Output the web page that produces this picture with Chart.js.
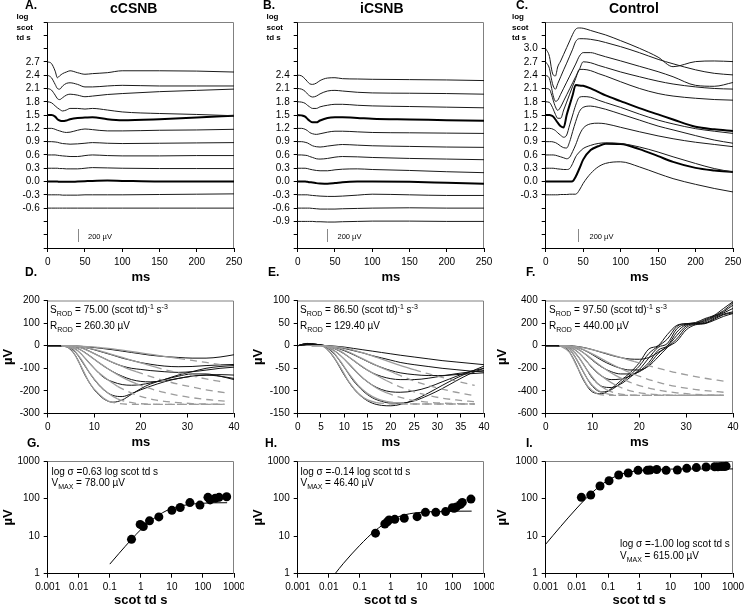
<!DOCTYPE html>
<html>
<head>
<meta charset="utf-8">
<title>ERG luminance series</title>
<script src="https://cdn.jsdelivr.net/npm/chart.js@4.4.1/dist/chart.umd.min.js"></script>
<style>
  body { margin: 0; background: #fff; }
  #fig { position: relative; width: 744px; height: 608px; overflow: hidden;
         font-family: "Liberation Sans", Arial, sans-serif; color: #000; }
  #fig canvas { position: absolute; }
  .lbl { position: absolute; white-space: nowrap; }
  .let { font-weight: bold; font-size: 12px; line-height: 12px; }
  .ttl { font-weight: bold; font-size: 14px; line-height: 14px; }
  .logl { font-weight: bold; font-size: 8px; line-height: 10.5px; }
  .bar { position: absolute; width: 1px; height: 12.5px; background: #888; }
  .barl { font-size: 7.5px; line-height: 8px; }
  .ann { font-size: 10px; }
  .ann sub, .ann sup { font-size: 7px; line-height: 0; }
</style>
</head>
<body>
<div id="fig">
  <canvas id="cA"></canvas><canvas id="cB"></canvas><canvas id="cC"></canvas>
  <canvas id="cD"></canvas><canvas id="cE"></canvas><canvas id="cF"></canvas>
  <canvas id="cG"></canvas><canvas id="cH"></canvas><canvas id="cI"></canvas>

  <div class="lbl let" style="left:25px;top:-1.5px">A.</div>
  <div class="lbl let" style="left:263px;top:-1.5px">B.</div>
  <div class="lbl let" style="left:516px;top:-1.5px">C.</div>
  <div class="lbl ttl" style="left:110px;top:1.3px">cCSNB</div>
  <div class="lbl ttl" style="left:360px;top:1.3px">iCSNB</div>
  <div class="lbl ttl" style="left:609px;top:1.3px">Control</div>
  <div class="lbl logl" style="left:16.5px;top:12.2px">log<br>scot<br>td s</div>
  <div class="lbl logl" style="left:266.5px;top:12.2px">log<br>scot<br>td s</div>
  <div class="lbl logl" style="left:512px;top:12.2px">log<br>scot<br>td s</div>

  <div class="bar" style="left:77.5px;top:229px"></div>
  <div class="lbl barl" style="left:88px;top:232.5px">200 &micro;V</div>
  <div class="bar" style="left:326.5px;top:229px"></div>
  <div class="lbl barl" style="left:337.5px;top:232.5px">200 &micro;V</div>
  <div class="bar" style="left:578px;top:229px"></div>
  <div class="lbl barl" style="left:589.5px;top:232.5px">200 &micro;V</div>

  <div class="lbl let" style="left:25px;top:266px">D.</div>
  <div class="lbl let" style="left:268px;top:266px">E.</div>
  <div class="lbl let" style="left:526px;top:266px">F.</div>
  <div class="lbl ann" style="left:50px;top:302px;line-height:16px">S<sub>ROD</sub> = 75.00 (scot td)<sup>-1</sup> s<sup>-3</sup><br>R<sub>ROD</sub> = 260.30 &micro;V</div>
  <div class="lbl ann" style="left:300px;top:302px;line-height:16px">S<sub>ROD</sub> = 86.50 (scot td)<sup>-1</sup> s<sup>-3</sup><br>R<sub>ROD</sub> = 129.40 &micro;V</div>
  <div class="lbl ann" style="left:549px;top:302px;line-height:16px">S<sub>ROD</sub> = 97.50 (scot td)<sup>-1</sup> s<sup>-3</sup><br>R<sub>ROD</sub> = 440.00 &micro;V</div>

  <div class="lbl let" style="left:27px;top:437px">G.</div>
  <div class="lbl let" style="left:265px;top:437px">H.</div>
  <div class="lbl let" style="left:526px;top:437px">I.</div>
  <div class="lbl ann" style="left:51.5px;top:465.5px;line-height:11px">log &sigma; =0.63 log scot td s<br>V<sub>MAX</sub> = 78.00 &micro;V</div>
  <div class="lbl ann" style="left:300.5px;top:465.5px;line-height:11px">log &sigma; =-0.14 log scot td s<br>V<sub>MAX</sub> = 46.40 &micro;V</div>
  <div class="lbl ann" style="left:620px;top:538px;line-height:12px">log &sigma; =-1.00 log scot td s<br>V<sub>MAX</sub> = 615.00 &micro;V</div>
</div>

<script>
// ---- panels A-C: ERG traces offset by flash strength (log scot td s) ----
const UV_UNIT = 0.001433;          // log units per microvolt (200 uV scale bar)
const BOLD = [1.5, 0.0];

const T_AB = [0, 5, 10, 13, 16, 20, 25, 30, 40, 50, 60, 80, 100, 150, 200, 250];

const A_LEVELS = [2.7, 2.4, 2.1, 1.8, 1.5, 1.2, 0.9, 0.6, 0.3, 0.0, -0.3, -0.6];
const A_UV = [
  [0, -25, -145, -250, -220, -185, -160, -140, -170, -195, -185, -170, -140, -140, -145, -160],
  [0, -40, -145, -210, -220, -170, -130, -120, -145, -185, -185, -170, -160, -170, -170, -170],
  [0, -25, -105, -160, -175, -145, -105, -90, -105, -130, -120, -95, -80, -50, -30, -10],
  [0, -15, -65, -95, -120, -145, -130, -105, -105, -115, -105, -130, -160, -185, -200, -220],
  [0, 0, -25, -65, -85, -95, -85, -65, -45, -40, -35, -65, -80, -65, -40, -10],
  [0, 0, -15, -30, -40, -55, -65, -60, -30, -10, -20, -40, -40, -30, -25, -15],
  [0, 0, -5, -10, -20, -30, -35, -40, -35, -25, -15, -25, -30, -25, -20, -15],
  [0, 0, 0, -5, -10, -15, -20, -25, -25, -10, 0, -10, -15, -15, -10, -10],
  [0, 0, 0, 0, -5, -5, -10, -10, -10, 0, 10, 5, 0, -5, -5, -5],
  [0, 0, 0, 0, -5, -5, -5, -5, 0, 5, 10, 15, 10, 0, 0, 0],
  [0, 0, 0, 0, 0, -5, -5, -5, -5, 0, 0, 0, 0, 5, 10, 15],
  [0, 0, 0, 0, 0, 0, 0, 0, 0, 0, 0, 0, 0, 0, 0, 0]
];

const B_LEVELS = [2.4, 2.1, 1.8, 1.5, 1.2, 0.9, 0.6, 0.3, 0.0, -0.3, -0.6, -0.9];
const B_UV = [
  [0, -10, -60, -100, -135, -145, -125, -85, -45, -40, -55, -60, -65, -70, -75, -85],
  [0, -10, -45, -85, -115, -135, -120, -85, -40, -30, -40, -60, -70, -75, -80, -90],
  [0, -5, -25, -55, -80, -105, -105, -80, -55, -40, -40, -55, -65, -75, -85, -95],
  [0, -5, -25, -60, -90, -115, -115, -85, -45, -35, -35, -45, -60, -70, -80, -90],
  [0, 0, -15, -35, -65, -85, -95, -85, -60, -45, -45, -55, -65, -70, -75, -80],
  [0, 0, -10, -20, -40, -65, -80, -85, -70, -55, -45, -55, -65, -75, -85, -90],
  [0, 0, -5, -10, -25, -40, -60, -65, -55, -35, -25, -30, -40, -55, -65, -75],
  [0, 0, 0, -5, -15, -25, -35, -40, -40, -25, -15, -10, -20, -35, -55, -70],
  [0, 0, 0, -5, -10, -15, -25, -30, -35, -25, -10, 0, 0, -5, -20, -35],
  [0, 0, 0, 0, -5, -10, -15, -20, -25, -25, -20, -5, 10, 0, -10, -10],
  [0, 0, 0, 0, 0, -5, -10, -15, -15, -15, -10, -5, 0, 5, 0, 0],
  [0, 0, 0, 0, 0, 0, -5, -5, -10, -10, -5, 0, 5, 5, 0, 0]
];

const T_C = [0, 5, 8, 10, 13, 16, 20, 24, 28, 32, 36, 40, 45, 50, 60, 70, 80, 100, 125, 150, 170, 200, 225, 250];
const C_LEVELS = [3.0, 2.7, 2.4, 2.1, 1.8, 1.5, 1.2, 0.9, 0.6, 0.3, 0.0, -0.3];
const C_UV = [
  [0, -125, -335, -415, -430, -290, -195, -90, 15, 120, 225, 305, 325, 320, 285, 250, 215, 125, 5, -135, -285, -205, -195, -205],
  [0, -105, -290, -380, -430, -345, -235, -125, -20, 90, 200, 320, 365, 365, 355, 335, 305, 240, 145, 40, -30, -125, -180, -205],
  [0, -55, -210, -325, -410, -395, -300, -205, -110, -15, 80, 175, 300, 355, 355, 325, 290, 225, 140, 55, -25, -160, -175, -115],
  [0, -15, -105, -185, -290, -345, -290, -195, -100, -5, 90, 185, 300, 420, 405, 365, 330, 260, 185, 115, 70, 25, 0, -10],
  [0, -10, -65, -115, -200, -260, -260, -130, -5, 120, 245, 365, 510, 510, 490, 445, 405, 315, 210, 130, 90, 55, 35, 25],
  [0, 0, -10, -25, -70, -120, -175, -195, 0, 160, 315, 475, 465, 460, 420, 365, 310, 220, 110, 10, -70, -185, -225, -250],
  [0, 0, -5, -15, -35, -70, -110, -140, -105, 55, 210, 365, 490, 500, 490, 445, 405, 330, 225, 130, 70, -5, -45, -80],
  [0, 0, 0, -5, -15, -35, -70, -95, -100, 0, 160, 315, 475, 540, 560, 540, 510, 435, 340, 245, 185, 95, 25, -25],
  [0, 0, 0, 0, -5, -15, -30, -45, -60, -35, 55, 160, 315, 420, 490, 500, 490, 435, 365, 300, 255, 200, 165, 130],
  [0, 0, 0, 0, -5, -10, -15, -20, -20, -5, 75, 180, 255, 310, 360, 390, 400, 390, 335, 255, 180, 75, -5, -60],
  [0, 0, 0, 0, 0, 0, 0, 0, 0, 0, 5, 75, 205, 345, 495, 555, 595, 590, 510, 400, 310, 215, 175, 150],
  [0, 0, 0, 0, 0, 0, 5, 5, 5, 10, 10, 10, 75, 180, 335, 440, 495, 520, 440, 335, 255, 165, 100, 45]
];

// ---- panels D-F: leading edge of the a-wave with rod model fits ----
const T_D = [0, 2, 4, 6, 8, 10, 12, 14, 16, 18, 20, 22, 25, 28, 31, 34, 37, 40];
const D_UV = [
  [0, 0, -5, -45, -130, -195, -235, -250, -240, -215, -190, -170, -150, -130, -115, -100, -92, -88],
  [0, 0, -3, -30, -90, -150, -195, -220, -225, -212, -195, -180, -160, -145, -135, -130, -128, -130],
  [0, 0, -2, -15, -55, -100, -140, -160, -172, -175, -172, -165, -150, -135, -125, -125, -135, -150],
  [0, 0, 0, -8, -30, -60, -90, -115, -135, -150, -158, -160, -155, -145, -135, -130, -135, -145],
  [0, 0, 0, -4, -15, -35, -55, -75, -90, -100, -105, -110, -115, -118, -115, -108, -100, -95],
  [0, 0, 0, -2, -8, -18, -30, -42, -55, -65, -75, -82, -90, -93, -92, -88, -85, -83],
  [0, 0, 0, -1, -4, -8, -13, -18, -24, -30, -36, -42, -48, -52, -55, -55, -50, -40]
];
const E_UV = [
  [0, 5, 3, -5, -30, -65, -95, -115, -127, -132, -133, -130, -120, -105, -88, -72, -58, -45],
  [0, 5, 3, -3, -20, -48, -78, -100, -115, -123, -127, -127, -122, -110, -95, -78, -62, -50],
  [0, 4, 3, -2, -12, -30, -52, -72, -87, -97, -102, -103, -100, -92, -80, -68, -57, -50],
  [0, 3, 3, 0, -7, -18, -33, -48, -60, -68, -73, -75, -75, -72, -67, -62, -58, -55],
  [0, 3, 2, 0, -4, -11, -20, -30, -40, -48, -55, -60, -64, -66, -66, -64, -62, -60],
  [0, 2, 2, 0, -2, -6, -11, -16, -22, -27, -32, -37, -42, -46, -50, -53, -56, -58],
  [0, 2, 2, 0, -1, -3, -6, -9, -12, -15, -18, -21, -25, -29, -33, -36, -39, -42]
];
const T_F = [0, 2, 4, 6, 8, 10, 12, 14, 16, 18, 20, 22, 24, 26, 28, 30, 32, 34, 36, 38, 40];
const F_UV = [
  [0, 0, -10, -120, -300, -410, -425, -380, -310, -240, -150, -30, 0, 100, 180, 195, 205, 240, 270, 330, 390],
  [0, 0, -5, -80, -230, -360, -410, -390, -330, -260, -180, -70, -5, 60, 170, 195, 200, 230, 265, 310, 380],
  [0, 0, -3, -50, -160, -290, -360, -370, -340, -280, -210, -110, -15, 20, 150, 190, 198, 220, 260, 300, 360],
  [0, 0, -2, -30, -100, -200, -270, -300, -295, -270, -225, -150, -40, 0, 120, 185, 195, 210, 255, 290, 330],
  [0, 0, -1, -15, -60, -130, -190, -230, -250, -250, -230, -170, -70, -5, 90, 175, 195, 200, 245, 280, 300],
  [0, 0, 0, -8, -35, -80, -130, -170, -200, -215, -215, -180, -100, -15, 60, 160, 190, 198, 235, 275, 290],
  [0, 0, 0, -3, -15, -35, -60, -85, -105, -118, -120, -105, -60, -10, 40, 140, 185, 195, 225, 260, 285]
];

const FIT_T = [3, 5, 7, 9, 11, 13, 15, 17, 19, 21, 23, 25, 28, 31, 34, 38];
const D_FIT = [
  [0, -15, -85, -165, -215, -245, -255, -259, -260, -260, -260, -260, -260, -260, -260, -260],
  [0, -8, -55, -120, -172, -210, -235, -248, -255, -258, -259, -260, -260, -260, -260, -260],
  [0, -5, -32, -78, -120, -152, -180, -200, -218, -230, -240, -246, -252, -256, -258, -259],
  [0, -3, -18, -45, -75, -103, -128, -150, -168, -183, -196, -207, -220, -230, -238, -245],
  [0, -1, -8, -25, -45, -65, -83, -100, -115, -129, -142, -154, -170, -183, -195, -208],
  [0, 0, -4, -12, -22, -34, -46, -58, -70, -82, -94, -105, -120, -134, -147, -162],
  [0, 0, -2, -4, -8, -12, -17, -23, -29, -35, -41, -47, -56, -65, -74, -86]
];
const D_CUT = [13, 15, 15, 18, 19, 22, 26];
const E_FIT = [
  [0, 0, -15, -45, -80, -105, -120, -126, -128, -129, -129, -129, -129, -129, -129, -129],
  [0, 0, -8, -32, -62, -88, -106, -117, -123, -126, -128, -129, -129, -129, -129, -129],
  [0, 0, -5, -20, -40, -62, -80, -94, -104, -111, -117, -121, -125, -127, -128, -129],
  [0, 0, -3, -11, -25, -40, -54, -66, -77, -87, -95, -102, -110, -116, -120, -124],
  [0, 0, -2, -6, -14, -24, -34, -44, -53, -62, -70, -78, -88, -96, -103, -111],
  [0, 0, -1, -3, -7, -13, -19, -26, -33, -40, -47, -53, -62, -70, -78, -88]
];
const E_CUT = [17, 19, 19, 19, 21, 24];
const F_FIT = [
  [0, -55, -210, -360, -425, -438, -440, -440, -440, -440, -440, -440, -440, -440, -440, -440],
  [0, -30, -150, -300, -390, -425, -437, -440, -440, -440, -440, -440, -440, -440, -440, -440],
  [0, -20, -100, -225, -330, -390, -420, -433, -438, -440, -440, -440, -440, -440, -440, -440],
  [0, -10, -60, -150, -235, -300, -350, -385, -408, -422, -430, -435, -439, -440, -440, -440],
  [0, -5, -35, -90, -155, -215, -265, -305, -340, -365, -385, -400, -417, -428, -434, -438],
  [0, -3, -20, -52, -95, -140, -182, -220, -255, -285, -312, -335, -362, -382, -397, -412],
  [0, -2, -10, -25, -45, -68, -92, -117, -142, -166, -189, -210, -240, -265, -288, -313]
];
const F_CUT = [11, 12, 13, 14, 16, 18, 18];

// ---- panels G-I: b-wave amplitude vs. flash strength ----
const G_X = [0.5, 0.95, 1.2, 1.9, 3.8, 10, 18.5, 38, 80, 145, 170, 250, 330, 580];
const G_Y = [8.2, 20.5, 18, 25.5, 32.5, 48.5, 58, 78, 67, 108, 92, 102, 108, 112];
const G_FIT_X = [0.1, 0.2, 0.5, 1, 2, 5, 10, 20, 50, 100, 200, 600];
const G_FIT_Y = [1.8, 3.5, 8.2, 15, 25, 42, 55, 64, 72, 75, 77, 77.5];

const H_X = [0.32, 0.64, 0.77, 0.88, 1.34, 2.7, 7, 13, 28, 58, 96, 110, 130, 175, 200, 380];
const H_Y = [12, 21, 24, 27, 28, 30, 33, 43, 43, 45, 57, 55, 60, 70, 79, 97];
const H_FIT_X = [0.016, 0.03, 0.1, 0.3, 1, 3, 10, 30, 100, 400];
const H_FIT_Y = [1.0, 1.9, 5.7, 13.6, 27, 37.4, 43.3, 45.3, 46.1, 46.3];

const I_X = [0.0139, 0.0277, 0.055, 0.107, 0.218, 0.44, 0.91, 1.8, 2.2, 3.6, 7.2, 16.5, 33, 67, 137, 259, 330, 420, 520, 600];
const I_Y = [108, 124, 216, 299, 423, 478, 565, 565, 575, 595, 565, 575, 637, 668, 690, 703, 703, 715, 715, 730];
const I_FIT_X = [0.001, 0.003, 0.01, 0.03, 0.1, 0.3, 1, 3, 10, 30, 100, 300, 1000];
const I_FIT_Y = [6.1, 18, 56, 142, 308, 461, 559, 595, 609, 613, 614, 615, 615];

const LOG_X_TICKS = [0.001, 0.01, 0.1, 1, 10, 100, 1000];
const LOG_Y_TICKS = [1, 10, 100, 1000];

// ---------------------------------------------------------------
const SANS = '"Liberation Sans", Arial, sans-serif';

function steps(min, max, step) {
  const out = [];
  for (let v = min; v <= max + 1e-9; v += step) out.push(Math.round(v * 1000) / 1000);
  return out;
}

const framePlugin = {
  id: 'frame',
  beforeDatasetsDraw(chart) {
    const { ctx, chartArea: a } = chart;
    ctx.save();
    ctx.strokeStyle = '#808080';
    ctx.lineWidth = 1;
    ctx.beginPath();
    ctx.moveTo(a.left, a.top + 0.5);
    ctx.lineTo(a.right - 0.5, a.top + 0.5);
    ctx.lineTo(a.right - 0.5, a.bottom);
    ctx.stroke();
    ctx.restore();
  }
};

function axis(o) {
  return {
    type: o.type || 'linear',
    min: o.min, max: o.max,
    afterBuildTicks: s => { s.ticks = o.ticks.map(v => ({ value: v })); },
    ticks: {
      autoSkip: false, maxRotation: 0, padding: 4, color: '#000',
      font: { family: SANS, size: 10 },
      callback: o.label || (v => String(v))
    },
    grid: { drawOnChartArea: false, drawTicks: true, tickLength: 4, color: '#000', lineWidth: 1 },
    border: { color: '#000', width: 1 },
    title: o.title
      ? { display: true, text: o.title, color: '#000', padding: o.pad || 0,
          font: { family: SANS, size: 13, weight: 'bold' } }
      : { display: false }
  };
}

function panel(id, box, area, datasets, x, y) {
  const cv = document.getElementById(id);
  const [L, T, W, H] = box;
  const [pl, pt, pr, pb] = area;
  cv.width = W; cv.height = H;
  Object.assign(cv.style, { left: L + 'px', top: T + 'px', width: W + 'px', height: H + 'px' });
  x.afterFit = s => { s.height = T + H - pb; s.paddingLeft = 0; s.paddingRight = 0; };
  y.afterFit = s => { s.width = pl - L; s.paddingTop = 0; s.paddingBottom = 0; };
  return new Chart(cv, {
    type: 'line',
    data: { datasets },
    options: {
      responsive: false, animation: false, devicePixelRatio: 1,
      layout: { padding: { left: 0, top: pt - T, right: L + W - pr, bottom: 0 } },
      plugins: { legend: { display: false }, tooltip: { enabled: false } },
      elements: { point: { radius: 0 } },
      scales: { x, y }
    },
    plugins: [framePlugin]
  });
}

function traces(levels, uv, times) {
  return levels.map((lev, i) => {
    const bold = BOLD.includes(lev);
    return {
      data: times.map((t, j) => ({ x: t, y: lev + uv[i][j] * UV_UNIT })),
      borderColor: bold ? '#000' : '#1a1a1a',
      borderWidth: bold ? 2 : 1,
      cubicInterpolationMode: 'monotone', pointRadius: 0
    };
  });
}

function waves(uv, times) {
  return uv.map(row => ({
    data: times.map((t, j) => ({ x: t, y: row[j] })),
    borderColor: '#111', borderWidth: 1,
    cubicInterpolationMode: 'monotone', pointRadius: 0
  }));
}

function fits(rows, cuts) {
  return rows.map((row, i) => ({
    data: FIT_T.map((t, j) => ({ x: t, y: row[j] })),
    borderColor: '#9c9c9c', borderWidth: 1.3,
    cubicInterpolationMode: 'monotone', pointRadius: 0,
    segment: { borderDash: c => (c.p0.parsed.x >= cuts[i] ? [7, 5] : undefined) }
  }));
}

function dots(xs, ys) {
  return {
    data: xs.map((v, i) => ({ x: v, y: ys[i] })),
    showLine: false, pointRadius: 4.5, pointBackgroundColor: '#000',
    pointBorderColor: '#000', pointBorderWidth: 0, borderColor: '#000'
  };
}

function curve(xs, ys) {
  return {
    data: xs.map((v, i) => ({ x: v, y: ys[i] })),
    borderColor: '#000', borderWidth: 1, pointRadius: 0,
    cubicInterpolationMode: 'monotone'
  };
}

// ---- top row ----
const levelTicks = steps(-1.5, 3.6, 0.3);
const fmt1 = v => (Math.abs(v) < 1e-9 ? 0 : v).toFixed(1);
function levelAxis(levels) {
  return axis({
    min: -1.5, max: 3.6, ticks: levelTicks,
    label: v => (levels.some(l => Math.abs(l - v) < 1e-6) ? fmt1(v) : '')
  });
}
const msAxisTop = () => axis({ min: 0, max: 250, ticks: [0, 50, 100, 150, 200, 250], title: 'ms', pad: { top: 0, bottom: 5 } });

panel('cA', [0, 0, 244, 290], [47.7, 22, 234, 248], traces(A_LEVELS, A_UV, T_AB), msAxisTop(), levelAxis(A_LEVELS));
panel('cB', [250, 0, 244, 290], [297.7, 22, 484, 248], traces(B_LEVELS, B_UV, T_AB), msAxisTop(), levelAxis(B_LEVELS));
panel('cC', [494, 0, 250, 290], [545.7, 22, 733, 248], traces(C_LEVELS, C_UV, T_C), msAxisTop(), levelAxis(C_LEVELS));

// ---- middle row ----
const uvTitle = { title: '\u00b5V', pad: { top: 1, bottom: 0 } };
panel('cD', [0, 290, 244, 160], [47.7, 300.5, 234, 413.5],
  fits(D_FIT, D_CUT).concat(waves(D_UV, T_D)),
  axis({ min: 0, max: 40, ticks: [0, 10, 20, 30, 40], title: 'ms' }),
  axis({ min: -300, max: 200, ticks: steps(-300, 200, 100), ...uvTitle }));
panel('cE', [250, 290, 244, 160], [297.7, 300.5, 484, 413.5],
  fits(E_FIT, E_CUT).concat(waves(E_UV, T_D)),
  axis({ min: 0, max: 40, ticks: steps(0, 40, 5), title: 'ms' }),
  axis({ min: -150, max: 100, ticks: steps(-150, 100, 50), ...uvTitle }));
panel('cF', [494, 290, 250, 160], [545.7, 300.5, 733, 413.5],
  fits(F_FIT, F_CUT).concat(waves(F_UV, T_F)),
  axis({ min: 0, max: 40, ticks: [0, 10, 20, 30, 40], title: 'ms' }),
  axis({ min: -600, max: 400, ticks: steps(-600, 400, 200), ...uvTitle }));

// ---- bottom row ----
const logX = () => axis({ type: 'logarithmic', min: 0.001, max: 1000, ticks: LOG_X_TICKS, title: 'scot td s' });
const logY = () => axis({ type: 'logarithmic', min: 1, max: 1000, ticks: LOG_Y_TICKS, ...uvTitle });
panel('cG', [0, 450, 244, 158], [47.7, 461, 234, 573.7], [dots(G_X, G_Y), curve(G_FIT_X, G_FIT_Y)], logX(), logY());
panel('cH', [250, 450, 244, 158], [297.7, 461, 484, 573.7], [dots(H_X, H_Y), curve(H_FIT_X, H_FIT_Y)], logX(), logY());
panel('cI', [494, 450, 250, 158], [545.7, 461, 733, 573.7], [dots(I_X, I_Y), curve(I_FIT_X, I_FIT_Y)], logX(), logY());
</script>
</body>
</html>
